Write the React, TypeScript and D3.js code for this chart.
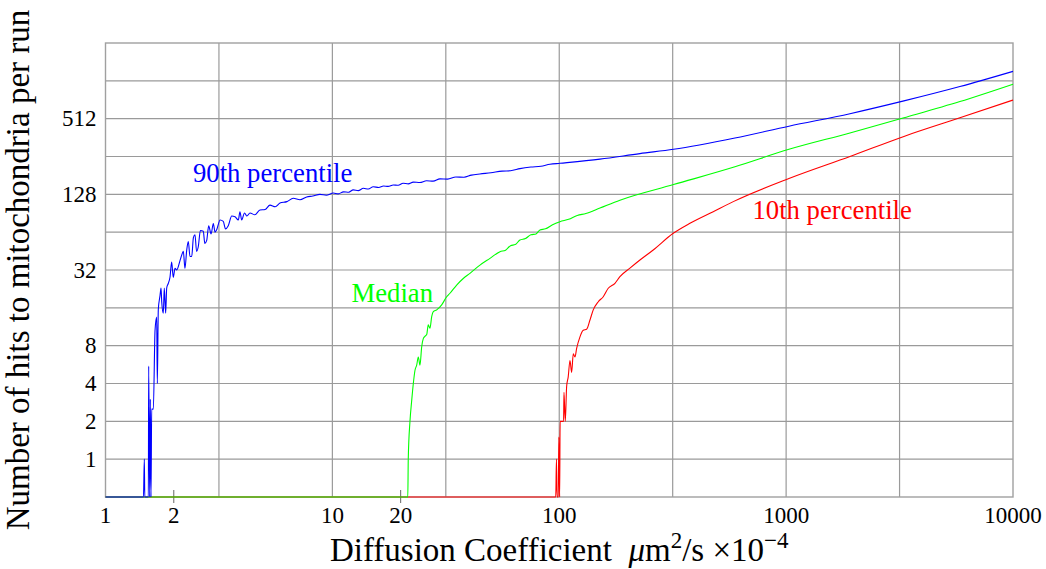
import React, { useEffect, useRef } from "react";
import * as d3 from "d3";

// [diffusion coefficient, hits per run]
const p90: [number, number][] = [
  [1, 0], [1.47, 0], [1.483, 1], [1.49, 0], [1.545, 0], [1.55, 5.5], [1.566, 0],
  [1.576, 3], [1.587, 0], [1.598, 2.5], [1.625, 2.5], [1.653, 10.5], [1.681, 13.5],
  [1.692, 4], [1.709, 15.5], [1.739, 20], [1.757, 23], [1.769, 18], [1.798, 14.5],
  [1.816, 23], [1.842, 14.5], [1.861, 23], [1.891, 25], [1.924, 28], [1.957, 37],
  [1.989, 28], [2.025, 33], [2.06, 32], [2.13, 38], [2.167, 42], [2.203, 45],
  [2.24, 33], [2.28, 46], [2.317, 54], [2.357, 41], [2.399, 41], [2.44, 58],
  [2.48, 61], [2.52, 45], [2.564, 49], [2.62, 66], [2.698, 65], [2.74, 52],
  [2.793, 55], [2.85, 72], [2.92, 62], [2.987, 75], [3.04, 64], [3.091, 67],
  [3.2, 80], [3.305, 78], [3.38, 68], [3.477, 72], [3.6, 86], [3.722, 85],
  [3.85, 80], [3.914, 93], [3.984, 80], [4.1, 91], [4.2, 86], [4.334, 91],
  [4.55, 88], [4.796, 96], [5.05, 97], [5.309, 105], [5.6, 102], [5.875, 109],
  [6.3, 112], [6.725, 119], [7.2, 116], [7.703, 122], [8.2, 124], [8.817, 128],
  [9.4, 126], [10.09, 131], [10.6, 129], [11.2, 134], [11.8, 133], [12.36, 139],
  [13, 137], [13.7, 143], [14.4, 141], [15.14, 147], [16, 145], [16.8, 149],
  [17.6, 148], [18.55, 152], [19.5, 151], [20.5, 157], [21.6, 155], [22.73, 160],
  [24.3, 159], [26, 164], [27.8, 163], [29.8, 170], [32.2, 169], [35, 176],
  [38, 175], [41, 182], [44.7, 186], [50, 190], [56, 196], [61, 197], [67.1, 205],
  [75, 211], [83, 214], [91, 222], [100.7, 226], [151.2, 244], [226.8, 270],
  [318.9, 292], [594.8, 359], [1029, 446], [1911, 561], [3305, 709], [5834, 922],
  [10000, 1218],
];

const median: [number, number][] = [
  [1, 0], [21.5, 0], [21.6, 1], [21.98, 2], [22.36, 2.9], [22.74, 4], [23.13, 5.1],
  [23.53, 5.6], [23.92, 6.5], [24.33, 5.6], [24.75, 7.8], [25.16, 9.1], [25.59, 9.5],
  [26.04, 9.8], [26.47, 11.7], [26.92, 11], [27.4, 13.6], [27.85, 14.9], [28.83, 15.4],
  [30.32, 16.9], [31.9, 19.6], [32.99, 20.9], [35.3, 24.3], [37.75, 27.4],
  [40.41, 30.1], [44.73, 35], [49.51, 39.6], [54.79, 44.8], [58, 46], [61, 50],
  [64, 51], [67.1, 55.4], [71, 57], [75, 61], [79, 62], [82.2, 66.6], [87, 68],
  [93, 73], [100.7, 77.6], [110, 81], [120, 87], [131, 90], [151.2, 99.6],
  [185.1, 115], [318.9, 153], [594.8, 212], [1029, 292], [1911, 394], [3305, 520],
  [5834, 700], [10000, 962],
];

const p10: [number, number][] = [
  [1, 0], [96.5, 0], [97.2, 1], [97.8, 0], [99, 0], [99.6, 1.5], [100.4, 0],
  [100.9, 2], [101.7, 2], [104.5, 2], [104.9, 3.4], [106.3, 2], [107.8, 3.8],
  [109.5, 4.5], [111.5, 6.1], [113.4, 4.9], [115.3, 6.9], [117.3, 6.5], [119.3, 7.6],
  [123.4, 9.4], [127.6, 10.6], [132, 10.8], [136.6, 12.8], [141.2, 15.4],
  [148.6, 17.9], [156.3, 19.6], [164.4, 22.9], [176, 25.1], [185.1, 28.3],
  [204.9, 33.1], [226.8, 38.4], [259.6, 46.2], [318, 62.7], [376.7, 75.3],
  [477.2, 93.2], [584.8, 112], [1029, 171], [1911, 256], [3305, 370], [5834, 520],
  [10000, 720],
];

const xTickLabels = [1, 2, 10, 20, 100, 1000, 10000];
const xMinorTicks = [2, 20];
const xGrid = [3.1623, 10, 31.623, 100, 316.23, 1000, 3162.3];
const yTickLabels = [1, 2, 4, 8, 32, 128, 512];
const yGrid = [1, 2, 4, 8, 16, 32, 64, 128, 256, 512, 1024];

const App = () => {
  const ref = useRef<SVGSVGElement>(null);

  useEffect(() => {
    const width = 1046;
    const height = 569;
    const left = 105.5, right = 1013, top = 43, bottom = 497;
    const font = "'Liberation Serif', 'Times New Roman', serif";

    const svg = d3.select(ref.current);
    svg.selectAll("*").remove();
    svg.attr("width", width).attr("height", height);

    const x = d3.scaleLog().domain([1, 10000]).range([left, right]);
    // zero hits sit on the bottom edge (0.5 on a base-2 log)
    const y = d3.scaleLog().base(2).domain([0.5, 2048]).range([bottom, top]);

    const grid = svg.append("g").attr("stroke", "#9a9a9a").attr("stroke-width", 1.2);
    grid.selectAll("line.h").data(yGrid).enter().append("line")
      .attr("x1", left).attr("x2", right)
      .attr("y1", (d) => y(d)).attr("y2", (d) => y(d));
    grid.selectAll("line.v").data(xGrid).enter().append("line")
      .attr("y1", top).attr("y2", bottom)
      .attr("x1", (d) => x(d)).attr("x2", (d) => x(d));

    svg.append("rect")
      .attr("x", left).attr("y", top)
      .attr("width", right - left).attr("height", bottom - top)
      .attr("fill", "none").attr("stroke", "#a0a0a0").attr("stroke-width", 1.4);

    svg.append("g").attr("stroke", "#666").attr("stroke-width", 1)
      .selectAll("line").data(xMinorTicks).enter().append("line")
      .attr("x1", (d) => x(d)).attr("x2", (d) => x(d))
      .attr("y1", bottom - 7).attr("y2", bottom + 6);

    const line = d3.line<[number, number]>()
      .curve(d3.curveMonotoneX)
      .x((d) => x(d[0]))
      .y((d) => (d[1] > 0 ? y(d[1]) : y(0.5)));

    [
      { data: p10, color: "#ff0000" },
      { data: median, color: "#00ff00" },
      { data: p90, color: "#0000ff" },
    ].forEach((s) => {
      svg.append("path")
        .datum(s.data)
        .attr("d", line)
        .attr("fill", "none")
        .attr("stroke", s.color)
        .attr("stroke-width", 1.1)
        .attr("stroke-linejoin", "round");
    });

    // tick labels
    svg.append("g").selectAll("text").data(xTickLabels).enter().append("text")
      .attr("x", (d) => x(d)).attr("y", 523)
      .attr("text-anchor", "middle")
      .attr("font-family", font).attr("font-size", 23).attr("fill", "#000")
      .text((d) => d);

    svg.append("g").selectAll("text").data(yTickLabels).enter().append("text")
      .attr("x", 96.5).attr("y", (d) => y(d)).attr("dy", "0.33em")
      .attr("text-anchor", "end")
      .attr("font-family", font).attr("font-size", 23).attr("fill", "#000")
      .text((d) => d);

    // series labels
    const notes = [
      { text: "90th percentile", x: 193, y: 182, color: "#0000ff" },
      { text: "Median", x: 351.5, y: 302, color: "#00ff00" },
      { text: "10th percentile", x: 752.5, y: 219, color: "#ff0000" },
    ];
    svg.append("g").selectAll("text").data(notes).enter().append("text")
      .attr("x", (d) => d.x).attr("y", (d) => d.y)
      .attr("font-family", font).attr("font-size", 26.7)
      .attr("fill", (d) => d.color)
      .text((d) => d.text);

    // axis titles
    const xt = svg.append("text")
      .attr("x", (left + right) / 2).attr("y", 561)
      .attr("text-anchor", "middle")
      .attr("font-family", font).attr("font-size", 33).attr("fill", "#000");
    xt.append("tspan").text("Diffusion Coefficient\u00a0\u00a0");
    xt.append("tspan").attr("font-style", "italic").text("\u03bc");
    xt.append("tspan").text("m");
    xt.append("tspan").attr("font-size", 23).attr("dy", -13).text("2");
    xt.append("tspan").attr("dy", 13).text("/s \u00d710");
    xt.append("tspan").attr("font-size", 23).attr("dy", -13).text("\u22124");

    svg.append("text")
      .attr("transform", `translate(28.5, ${(top + bottom) / 2}) rotate(-90)`)
      .attr("text-anchor", "middle")
      .attr("font-family", font).attr("font-size", 33).attr("fill", "#000")
      .text("Number of hits to mitochondria per run");
  }, []);

  return (
    <svg ref={ref} style={{ position: "absolute", left: 0, top: 0 }}></svg>
  );
};

export default App;
